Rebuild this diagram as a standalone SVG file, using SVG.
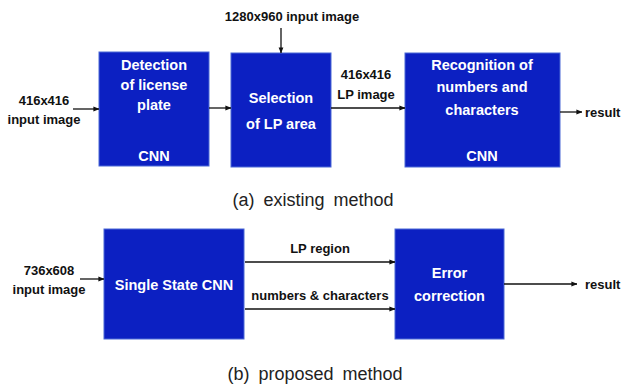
<svg xmlns="http://www.w3.org/2000/svg" width="630" height="385" viewBox="0 0 630 385">
  <defs>
    <marker id="arr" viewBox="0 0 8 8" refX="7.5" refY="4" markerWidth="6" markerHeight="6" orient="auto" markerUnits="userSpaceOnUse">
      <path d="M0,0.8 L8,4 L0,7.2 Z" fill="#111"/>
    </marker>
    <style>
      .box { fill: #0c20c2; stroke: #4a68d6; stroke-width: 1; }
      .in { font-family: "Liberation Sans", Arial, sans-serif; font-weight: bold; font-size: 14.5px; fill: #ffffff; text-anchor: middle; }
      .lbl { font-family: "Liberation Sans", Arial, sans-serif; font-weight: bold; font-size: 13px; fill: #111; text-anchor: middle; }
      .lblL { font-family: "Liberation Sans", Arial, sans-serif; font-weight: bold; font-size: 13px; fill: #111; text-anchor: start; }
      .cap { font-family: "Liberation Sans", Arial, sans-serif; font-size: 18px; fill: #222; text-anchor: middle; word-spacing: 4px; }
      .edge { stroke: #111; stroke-width: 1.3; fill: none; marker-end: url(#arr); }
    </style>
  </defs>
  <rect width="630" height="385" fill="#ffffff"/>

  <!-- (a) existing method -->
  <g id="detection">
    <rect class="box" x="99" y="52" width="110" height="114"/>
    <text class="in" x="154" y="70">Detection</text>
    <text class="in" x="154" y="90">of license</text>
    <text class="in" x="154" y="110">plate</text>
    <text class="in" x="154" y="161">CNN</text>
  </g>
  <g id="selection">
    <rect class="box" x="231" y="53" width="100" height="114"/>
    <text class="in" x="281" y="103">Selection</text>
    <text class="in" x="281" y="129">of LP area</text>
  </g>
  <g id="recognition">
    <rect class="box" x="405" y="53" width="155" height="114"/>
    <text class="in" x="482" y="70">Recognition of</text>
    <text class="in" x="482" y="92">numbers and</text>
    <text class="in" x="482" y="115">characters</text>
    <text class="in" x="482" y="161">CNN</text>
  </g>

  <!-- (b) proposed method -->
  <g id="single-state-cnn">
    <rect class="box" x="104" y="229" width="140" height="110"/>
    <text class="in" x="174" y="290">Single State CNN</text>
  </g>
  <g id="error-correction">
    <rect class="box" x="395" y="229" width="109" height="110"/>
    <text class="in" x="449.5" y="278">Error</text>
    <text class="in" x="449.5" y="301">correction</text>
  </g>

  <g id="connectors">
    <line class="edge" x1="73" y1="109" x2="99" y2="109"/>
    <line class="edge" x1="209" y1="108" x2="231" y2="108"/>
    <line class="edge" x1="281" y1="28" x2="281" y2="53"/>
    <line class="edge" x1="331" y1="108" x2="405" y2="108"/>
    <line class="edge" x1="560" y1="112" x2="582" y2="112"/>
    <line class="edge" x1="80" y1="279" x2="104" y2="279"/>
    <line class="edge" x1="245" y1="262" x2="395" y2="262"/>
    <line class="edge" x1="245" y1="309" x2="395" y2="309"/>
    <line class="edge" x1="504" y1="284" x2="577" y2="284"/>
  </g>

  <g id="labels">
    <text class="lbl" x="44" y="105">416x416</text>
    <text class="lbl" x="44" y="124">input image</text>
    <text class="lbl" x="292" y="21">1280x960 input image</text>
    <text class="lbl" x="366" y="79">416x416</text>
    <text class="lbl" x="366" y="99">LP image</text>
    <text class="lblL" x="585" y="117">result</text>
    <text class="lbl" x="49" y="275">736x608</text>
    <text class="lbl" x="49" y="294">input image</text>
    <text class="lbl" x="320" y="253">LP region</text>
    <text class="lbl" x="320" y="300">numbers &amp; characters</text>
    <text class="lblL" x="585" y="289">result</text>
    <text class="cap" x="313" y="206">(a) existing method</text>
    <text class="cap" x="315" y="380">(b) proposed method</text>
  </g>
</svg>
